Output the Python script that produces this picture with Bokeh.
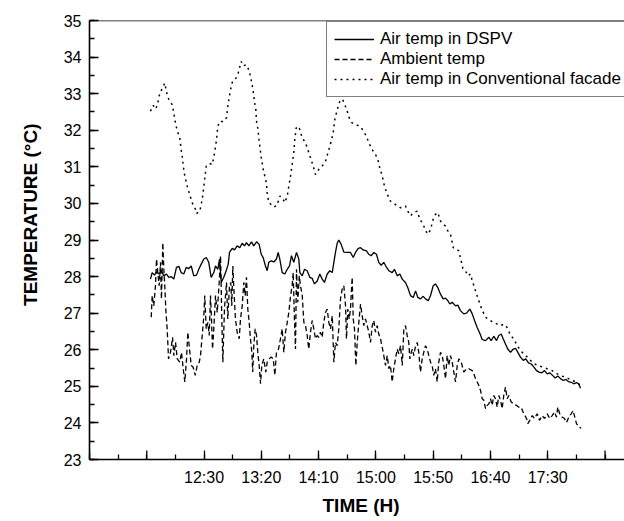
from bokeh.plotting import figure
from bokeh.models import FixedTicker, Range1d, Legend, LegendItem, Span, Title
from bokeh.embed import file_html
from bokeh.resources import INLINE

# ---- data (time in minutes after midnight, temperature in degC) ----
DSPV_T = [703.2, 704.7, 706.7, 708.5, 710.5, 712.6, 714.9, 717.2, 719.2, 721.3, 723.6, 725.9, 728.0, 730.0,
          732.3, 734.4, 736.7, 738.8, 741.0, 743.4, 745.4, 747.5, 749.8, 751.9, 754.1, 756.2, 758.5, 760.0,
          762.0, 763.5, 765.0, 767.2, 769.3, 771.1, 772.2, 774.6, 776.6, 778.9, 781.2, 783.3, 785.3, 787.0,
          789.1, 791.4, 793.4, 795.8, 798.1, 799.9, 801.6, 803.6, 805.1, 806.5, 808.6, 810.9, 813.2, 814.7,
          816.1, 818.2, 820.5, 822.6, 824.6, 826.3, 828.3, 830.7, 832.7, 833.6, 835.7, 837.7, 840.0, 842.3,
          844.4, 846.4, 848.8, 851.0, 853.1, 855.1, 857.5, 859.8, 861.9, 863.3, 864.7, 866.2, 867.6, 869.7,
          872.0, 875.0, 877.8, 880.2, 882.2, 884.6, 886.6, 888.9, 891.8, 893.8, 895.9, 898.2, 900.5, 902.5,
          904.6, 906.9, 909.3, 911.3, 914.2, 916.2, 918.6, 920.9, 923.0, 925.8, 927.8, 930.2, 932.6, 934.6,
          936.6, 938.9, 941.3, 943.3, 945.7, 947.7, 950.0, 952.0, 954.0, 956.4, 958.7, 960.8, 962.8, 964.5,
          966.6, 969.5, 971.5, 973.8, 976.7, 979.1, 982.0, 984.1, 986.1, 988.4, 990.7, 992.8, 995.7, 998.6,
          1000.6, 1002.9, 1005.3, 1007.3, 1009.4, 1011.1, 1013.1, 1015.1, 1017.5, 1019.9, 1021.9, 1023.9,
          1026.2, 1028.6, 1030.8, 1033.2, 1035.6, 1037.8, 1040.2, 1042.5, 1044.8, 1047.2, 1049.5, 1051.8,
          1054.2, 1056.5, 1058.8, 1061.1, 1063.5, 1065.8, 1068.1, 1070.5, 1072.7, 1075.1, 1077.1, 1078.6]
DSPV_V = [27.93, 28.11, 28.04, 28.13, 28.07, 28.16, 28.02, 28.07, 27.98, 28.00, 27.93, 28.25, 28.28, 28.11,
          28.07, 28.25, 28.22, 28.29, 28.02, 28.04, 28.20, 28.34, 28.48, 28.52, 28.39, 27.98, 28.11, 28.29,
          28.20, 28.48, 27.84, 27.98, 28.16, 28.34, 28.66, 28.77, 28.73, 28.84, 28.79, 28.91, 28.84, 28.93,
          28.84, 28.95, 28.84, 28.95, 28.88, 28.61, 28.52, 28.29, 28.16, 28.39, 28.43, 28.40, 28.48, 28.66,
          28.48, 28.11, 28.07, 28.20, 28.29, 28.57, 28.39, 28.66, 28.48, 28.11, 28.02, 28.20, 28.16, 27.98,
          27.95, 27.80, 27.88, 28.07, 27.93, 27.84, 28.07, 28.16, 28.11, 28.39, 28.66, 28.91, 29.00, 28.88,
          28.67, 28.66, 28.66, 28.52, 28.66, 28.77, 28.79, 28.73, 28.70, 28.61, 28.57, 28.66, 28.61, 28.39,
          28.31, 28.39, 28.25, 28.16, 28.11, 28.20, 28.02, 28.07, 27.93, 27.84, 27.70, 27.48, 27.43, 27.61,
          27.43, 27.39, 27.46, 27.39, 27.34, 27.48, 27.75, 27.80, 27.70, 27.52, 27.39, 27.41, 27.34, 27.25,
          27.30, 27.20, 27.22, 27.07, 26.98, 27.00, 27.11, 26.98, 26.80, 26.61, 26.45, 26.28, 26.25, 26.34,
          26.25, 26.37, 26.25, 26.39, 26.43, 26.30, 26.16, 26.02, 25.93, 26.02, 26.04, 25.93,
          25.80, 25.71, 25.75, 25.64, 25.61, 25.53, 25.43, 25.39, 25.37, 25.43, 25.34, 25.37,
          25.30, 25.23, 25.28, 25.21, 25.16, 25.19, 25.13, 25.11, 25.07, 25.10, 25.07, 24.95]

AMB_T = [703.9, 704.7, 706.1, 707.6, 708.5, 709.6, 710.8, 712.0, 712.8, 714.0, 714.9, 715.7, 716.6, 717.8,
         719.0, 720.7, 722.5, 723.6, 725.1, 726.6, 728.8, 730.3, 731.8, 733.2, 734.7, 735.8, 737.6, 738.8,
         740.5, 742.3, 744.0, 745.8, 746.9, 748.4, 749.8, 750.6, 751.9, 753.3, 754.5, 755.6, 756.5, 757.4,
         758.5, 760.0, 761.5, 763.2, 764.4, 765.5, 766.4, 767.8, 769.6, 770.7, 772.2, 773.3, 774.2, 775.1,
         776.3, 777.4, 778.9, 780.7, 781.8, 783.3, 784.7, 785.9, 787.0, 788.2, 789.4, 790.5, 791.7, 792.5,
         793.4, 794.6, 795.8, 796.9, 798.1, 799.3, 800.4, 802.1, 803.9, 805.1, 806.9, 808.6, 810.4, 811.8,
         813.2, 815.0, 816.7, 818.2, 819.6, 821.1, 822.6, 824.0, 825.5, 826.9, 827.8, 828.9, 829.8, 830.7,
         831.8, 833.1, 834.2, 835.7, 837.1, 838.5, 840.0, 841.4, 842.9, 844.4, 845.8, 847.3, 848.8, 850.2,
         851.6, 853.1, 854.5, 856.0, 857.5, 858.9, 860.4, 861.9, 863.3, 864.7, 866.2, 867.6, 869.1, 870.6,
         872.0, 873.5, 874.3, 875.5, 876.7, 877.8, 879.3, 880.2, 881.3, 882.5, 883.7, 885.1, 886.6, 888.0,
         889.4, 890.9, 892.4, 893.8, 895.3, 896.8, 898.2, 899.6, 901.1, 902.5, 904.0, 905.5, 906.9, 908.4,
         909.9, 911.3, 912.7, 914.2, 915.6, 917.1, 918.6, 920.0, 921.5, 923.0, 924.4, 925.8, 927.3, 928.7,
         929.6, 930.8, 931.9, 933.1, 934.6, 936.1, 937.4, 938.9, 940.4, 941.8, 943.3, 944.8, 946.2, 947.7,
         949.1, 950.5, 952.0, 953.5, 954.9, 956.4, 957.9, 959.3, 960.8, 962.2, 963.6, 965.1, 966.6, 968.0,
         969.5, 971.0, 972.4, 974.5, 976.7, 979.1, 981.1, 984.1, 985.5, 986.9, 988.4, 989.8, 991.3, 992.8,
         994.2, 995.7, 997.2, 998.6, 1000.0, 1001.5, 1002.9, 1004.4, 1005.9, 1007.3, 1008.8, 1010.2, 1011.6,
         1013.1, 1014.6, 1016.0, 1018.1, 1020.4, 1022.7, 1024.7, 1026.8, 1029.1, 1031.5, 1032.6, 1034.3,
         1036.4, 1038.4, 1040.8, 1042.8, 1045.2, 1047.2, 1049.5, 1051.8, 1053.9, 1055.9, 1057.6, 1058.8,
         1060.5, 1062.6, 1064.6, 1066.4, 1068.4, 1070.5, 1072.2, 1073.6, 1075.1, 1077.1, 1079.2]
AMB_V = [26.89, 27.48, 27.20, 27.75, 28.48, 28.11, 27.75, 28.39, 27.39, 28.93, 28.20, 27.75, 27.11, 26.57,
         25.75, 25.93, 26.34, 25.84, 26.20, 25.75, 25.66, 25.93, 25.48, 25.12, 25.75, 26.48, 25.93, 25.57,
         25.52, 25.30, 25.57, 25.66, 25.84, 26.39, 26.93, 27.48, 26.57, 26.75, 26.39, 27.48, 26.84, 26.02,
         26.57, 27.48, 27.02, 27.84, 28.57, 26.84, 25.66, 27.11, 27.84, 26.84, 27.75, 27.84, 27.20, 28.29,
         27.48, 26.84, 26.48, 26.30, 26.84, 27.20, 27.84, 27.48, 27.98, 27.11, 26.75, 26.30, 25.93, 25.39,
         26.11, 26.57, 26.39, 25.93, 25.57, 25.07, 25.57, 25.75, 25.39, 25.66, 25.75, 25.80, 25.75, 25.30,
         25.93, 26.02, 26.30, 26.57, 25.93, 26.48, 26.75, 27.02, 27.48, 27.75, 28.11, 26.84, 26.02, 28.20,
         27.30, 28.02, 27.75, 27.48, 26.75, 26.66, 26.39, 26.02, 26.48, 26.80, 26.57, 26.30, 26.39, 26.34,
         26.48, 26.34, 26.75, 27.02, 27.11, 26.75, 26.57, 26.93, 25.66, 26.20, 26.11, 26.57, 27.39, 27.66,
         27.75, 27.20, 26.30, 27.11, 26.84, 27.11, 27.98, 26.84, 26.57, 25.57, 26.20, 26.75, 27.25, 26.93,
         26.66, 26.84, 26.66, 26.48, 26.20, 26.66, 26.80, 26.48, 26.66, 26.43, 26.30, 26.07, 25.84, 25.57,
         25.84, 25.48, 25.57, 25.12, 25.48, 25.75, 26.02, 25.89, 26.11, 25.57, 26.57, 26.66, 26.39, 26.20,
         25.75, 25.93, 26.02, 25.84, 26.11, 26.20, 25.93, 25.39, 25.75, 25.93, 26.11, 26.02, 25.84, 25.66,
         25.57, 25.30, 25.48, 25.12, 25.66, 25.93, 25.84, 25.57, 25.21, 25.84, 25.57, 25.84, 25.66, 25.39,
         25.12, 25.57, 25.75, 25.66, 25.39, 25.48, 25.48, 25.43, 25.34, 25.21, 25.12, 25.03, 24.89, 24.66,
         24.62, 24.39, 24.48, 24.52, 24.66, 24.48, 24.75, 24.66, 24.43, 24.75, 24.62, 24.39, 24.75,
         24.98, 24.66, 24.75, 24.57, 24.52, 24.48, 24.43, 24.43, 24.25, 24.12, 23.98, 24.07,
         24.20, 24.12, 24.25, 24.07, 24.20, 24.12, 24.25, 24.12, 24.20, 24.30, 24.16, 24.43,
         24.25, 24.16, 24.12, 24.01, 24.16, 24.25, 24.34, 24.16, 23.98, 23.89, 23.86]

CONV_T = [703.2, 705.6, 707.9, 709.6, 711.4, 713.7, 715.7, 717.8, 719.6, 722.2, 723.3, 725.3, 726.8, 728.8,
          730.0, 730.9, 732.1, 733.2, 735.3, 737.0, 739.6, 742.5, 743.4, 746.3, 748.4, 749.8, 750.6, 751.9,
          755.0, 757.1, 758.5, 760.0, 760.9, 762.0, 763.7, 767.2, 769.6, 770.7, 771.9, 773.1, 774.8, 777.4,
          779.5, 780.9, 782.4, 784.2, 786.8, 789.1, 790.5, 791.7, 792.9, 794.0, 795.2, 795.8, 796.9, 797.8,
          798.7, 799.9, 801.0, 802.1, 803.6, 804.5, 805.1, 806.5, 808.6, 810.9, 813.8, 816.1, 818.2, 820.5,
          822.6, 824.0, 825.5, 826.9, 828.3, 829.2, 830.4, 832.2, 833.6, 835.7, 838.5, 840.6, 842.9, 845.3,
          847.3, 850.2, 853.1, 856.0, 858.9, 861.0, 862.7, 864.1, 866.2, 868.5, 870.8, 872.9, 875.0, 877.2,
          879.3, 883.1, 886.6, 889.4, 891.8, 893.8, 896.8, 899.6, 901.7, 903.4, 905.5, 907.5, 909.9, 912.7,
          917.1, 921.5, 925.8, 927.8, 930.2, 933.1, 936.1, 938.3, 941.3, 943.3, 945.7, 947.7, 950.0, 952.0,
          954.0, 956.4, 958.7, 960.8, 962.8, 965.1, 967.5, 970.4, 972.4, 974.5, 975.9, 978.2, 980.2, 982.6,
          984.1, 986.1, 987.8, 989.8, 991.3, 993.7, 995.7, 998.6, 1001.5, 1005.9, 1008.8, 1011.6, 1014.6,
          1017.5, 1020.4, 1023.3, 1027.7, 1032.1, 1036.4, 1040.8, 1045.2, 1049.5, 1053.9, 1058.3, 1062.6,
          1067.0, 1071.3, 1075.7, 1078.6]
CONV_V = [32.52, 32.68, 32.58, 32.74, 33.02, 33.15, 33.29, 32.97, 32.81, 32.70, 32.52, 32.15, 31.97, 31.79,
          31.47, 31.29, 30.97, 30.75, 30.47, 30.29, 30.02, 29.84, 29.72, 29.79, 30.11, 30.47, 30.67, 31.02,
          31.09, 31.06, 31.25, 31.56, 31.74, 32.11, 32.24, 32.24, 32.34, 32.65, 32.88, 33.11, 33.33, 33.40,
          33.52, 33.70, 33.88, 33.76, 33.79, 33.65, 33.47, 33.29, 33.06, 32.79, 32.56, 32.24, 32.06, 31.79,
          31.56, 31.25, 31.06, 30.84, 30.70, 30.52, 30.29, 30.02, 29.97, 29.90, 29.95, 30.20, 30.16, 30.02,
          30.20, 30.47, 30.75, 31.06, 31.38, 31.74, 32.06, 32.11, 32.02, 31.79, 31.66, 31.47, 31.25, 31.02,
          30.79, 30.93, 31.02, 31.15, 31.47, 31.70, 31.93, 32.29, 32.56, 32.79, 32.85, 32.70, 32.52, 32.29,
          32.20, 32.15, 32.09, 31.97, 31.83, 31.66, 31.47, 31.34, 31.20, 30.97, 30.75, 30.47, 30.25, 30.06,
          29.97, 29.88, 29.93, 29.79, 29.66, 29.75, 29.79, 29.57, 29.43, 29.25, 29.16, 29.29, 29.57, 29.70,
          29.75, 29.52, 29.43, 29.38, 29.25, 29.16, 28.79, 28.75, 28.70, 28.42, 28.22, 28.16, 28.02, 28.07,
          27.88, 27.70, 27.52, 27.34, 27.20, 27.02, 26.89, 26.82, 26.77, 26.70, 26.66, 26.70, 26.61,
          26.39, 26.30, 26.11, 25.93, 25.80, 25.66, 25.57, 25.53, 25.48, 25.43, 25.34, 25.28,
          25.23, 25.16, 25.11, 25.01]

SERIES_NAMES = ["Air temp in DSPV", "Ambient temp", "Air temp in Conventional facade"]

X_TICKS = [750, 800, 850, 900, 950, 1000, 1050]
X_TICK_LABELS = ["12:30", "13:20", "14:10", "15:00", "15:50", "16:40", "17:30"]
X_UNLABELED_TICKS = [650, 700, 1100]
X_MINOR = [650, 675, 700, 725, 750, 775, 800, 825, 850, 875, 900, 925, 950, 975, 1000, 1025, 1050, 1075, 1100]
Y_TICKS = [23, 24, 25, 26, 27, 28, 29, 30, 31, 32, 33, 34, 35]
Y_MINOR = [23 + 0.5 * i for i in range(25)]
X_TITLE = "TIME (H)"
Y_TITLE = "TEMPERATURE (\u00b0C)"

FONT = "Liberation Sans"
Y0, Y1 = 23, 35
MAJOR_IN_PX = 9
FRAME_H_PX = 441

p = figure(width=624, height=521, output_backend="svg", toolbar_location=None,
           x_range=Range1d(650, 1117), y_range=Range1d(Y0, Y1),
           min_border_left=89, min_border_right=0, min_border_top=20, min_border_bottom=60)
p.outline_line_color = None
p.xgrid.visible = False
p.ygrid.visible = False
p.background_fill_color = "white"
p.border_fill_color = "white"

p.xaxis.ticker = FixedTicker(ticks=X_TICKS, minor_ticks=X_MINOR)
p.yaxis.ticker = FixedTicker(ticks=Y_TICKS, minor_ticks=Y_MINOR)
p.xaxis.major_label_overrides = {t: l for t, l in zip(X_TICKS, X_TICK_LABELS)}

for ax in (p.xaxis[0], p.yaxis[0]):
    ax.axis_line_color = "black"
    ax.axis_line_width = 1.6
    ax.major_tick_line_color = "black"
    ax.minor_tick_line_color = "black"
    ax.major_tick_line_width = 1.3
    ax.minor_tick_line_width = 1.3
    ax.major_tick_in = MAJOR_IN_PX
    ax.major_tick_out = 0
    ax.minor_tick_in = 5
    ax.minor_tick_out = 0
    ax.major_label_text_font = FONT
    ax.major_label_text_font_size = "16px"
    ax.major_label_text_color = "black"

p.xaxis.major_label_standoff = 9
p.yaxis.major_label_standoff = 8

# axis titles as side titles (outside the axes)
p.add_layout(Title(text=X_TITLE, align="left", offset=233, standoff=10, vertical_align="middle",
                   text_font=FONT, text_font_size="19px", text_font_style="bold", text_color="black"),
             "below")
p.add_layout(Title(text=Y_TITLE, align="right", offset=103, standoff=37, vertical_align="middle",
                   text_font=FONT, text_font_size="19px", text_font_style="bold", text_color="black"),
             "left")

# top frame line
p.add_layout(Span(location=Y1, dimension="width", line_color="black", line_width=1.6))

# unlabeled major ticks on the time axis (same length as the labeled ones)
tick_len = (Y1 - Y0) * MAJOR_IN_PX / FRAME_H_PX
p.segment(x0=X_UNLABELED_TICKS, x1=X_UNLABELED_TICKS,
          y0=[Y0] * len(X_UNLABELED_TICKS), y1=[Y0 + tick_len] * len(X_UNLABELED_TICKS),
          line_color="black", line_width=1.3)

r1 = p.line(DSPV_T, DSPV_V, line_color="black", line_width=1.3)
r2 = p.line(AMB_T, AMB_V, line_color="black", line_width=1.3, line_dash="5 3")
r3 = p.line(CONV_T, CONV_V, line_color="black", line_width=1.5, line_dash="2 4")

legend = Legend(items=[LegendItem(label=SERIES_NAMES[0], renderers=[r1]),
                       LegendItem(label=SERIES_NAMES[1], renderers=[r2]),
                       LegendItem(label=SERIES_NAMES[2], renderers=[r3])],
                location=(237, 362))
legend.border_line_color = "black"
legend.border_line_width = 1.2
legend.background_fill_alpha = 1
legend.label_text_font = FONT
legend.label_text_font_size = "17px"
legend.label_text_color = "black"
legend.glyph_width = 40
legend.glyph_height = 18
legend.label_height = 18
legend.spacing = 0
legend.padding = 7
legend.margin = 0
legend.label_standoff = 6
p.add_layout(legend)

open("out.html", "w").write(file_html(p, INLINE))
